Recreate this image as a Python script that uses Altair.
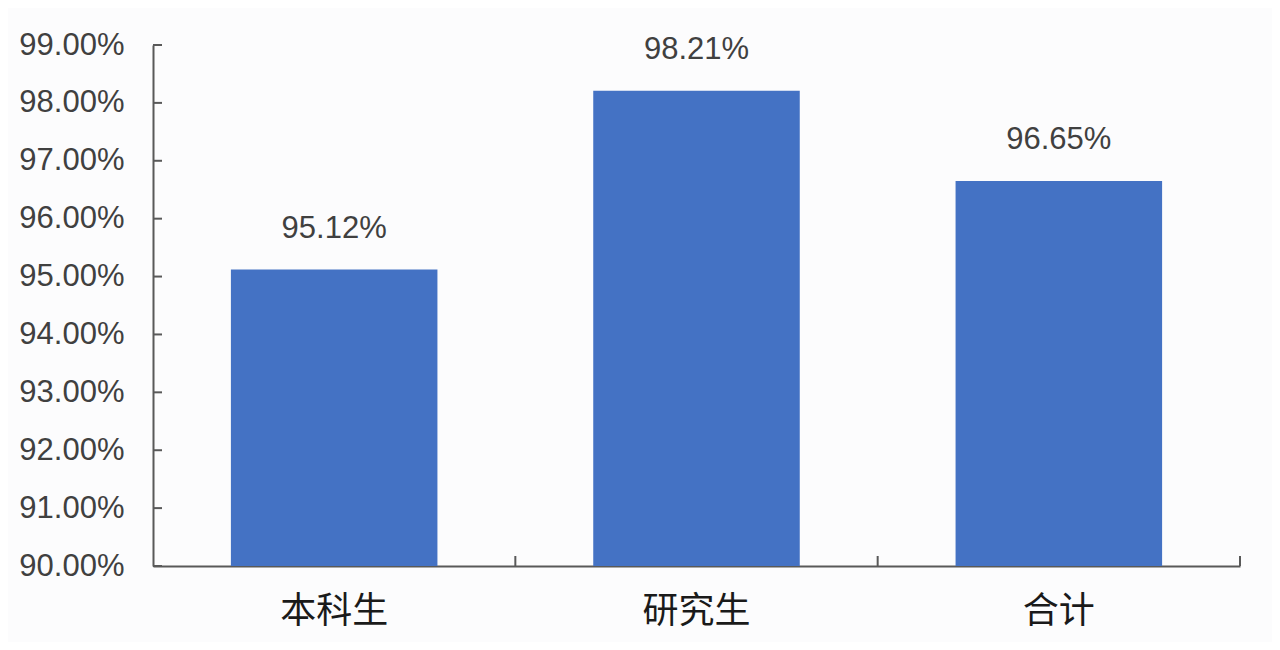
import altair as alt
import pandas as pd

categories = ["本科生", "研究生", "合计"]
rates = [95.12, 98.21, 96.65]
y_ticks = [90, 91, 92, 93, 94, 95, 96, 97, 98, 99]

FONT = "Liberation Sans, Arial"
BAR = "#4472c4"
AXIS = "#595959"
W, H = 1087, 521
PAD_IN = 0.43

frame = pd.DataFrame({"group": categories, "rate": rates})
frame["label"] = frame["rate"].map(lambda v: f"{v:.2f}%")
ticks = pd.DataFrame({"tick": y_ticks})

x_scale = alt.Scale(domain=categories, paddingInner=PAD_IN, paddingOuter=PAD_IN / 2)
y_scale = alt.Scale(domain=[90, 99], nice=False, zero=False)

bars = alt.Chart(frame).mark_bar(color=BAR, clip=True).encode(
    x=alt.X(
        "group:N",
        scale=x_scale,
        sort=categories,
        title=None,
        axis=alt.Axis(
            labelAngle=0,
            labelFont="Noto Sans CJK SC",
            labelFontSize=36,
            labelColor="#1a1a1a",
            labelPadding=28,
            ticks=False,
            domainColor=AXIS,
            domainWidth=2,
        ),
    ),
    y=alt.Y(
        "rate:Q",
        scale=y_scale,
        title=None,
        axis=alt.Axis(
            values=y_ticks,
            labelExpr="format(datum.value, '.2f') + '%'",
            labelFont=FONT,
            labelFontSize=31,
            labelColor="#404040",
            labelPadding=29,
            ticks=False,
            grid=False,
            domainColor=AXIS,
            domainWidth=2,
        ),
    ),
)

text = alt.Chart(frame).mark_text(
    baseline="bottom", dy=-25, font=FONT, fontSize=31, color="#404040"
).encode(
    x=alt.X("group:N", scale=x_scale, sort=categories),
    y=alt.Y("rate:Q", scale=y_scale),
    text="label:N",
)

# inward ticks on the value axis
y_tick_marks = alt.Chart(ticks).mark_rule(color=AXIS, strokeWidth=2).encode(
    y=alt.Y("tick:Q", scale=y_scale),
    x=alt.value(0),
    x2=alt.value(9),
)

# inward ticks at the right edge of each category slot
slot_gap = PAD_IN * (W / len(categories)) / 2
x_tick_marks = alt.Chart(frame).mark_rule(
    color=AXIS, strokeWidth=2, xOffset=slot_gap
).encode(
    x=alt.X("group:N", scale=x_scale, sort=categories, bandPosition=1),
    y=alt.value(H - 10),
    y2=alt.value(H),
)

chart = (
    alt.layer(bars, text, y_tick_marks, x_tick_marks)
    .properties(
        width=W,
        height=H,
        autosize=alt.AutoSizeParams(type="none"),
        padding={"left": 145, "top": 37, "right": 32, "bottom": 76},
        background="#fcfcfd",
    )
    .configure_view(stroke=None)
)

chart.save("out.html", embed_options={"renderer": "svg", "actions": False})
